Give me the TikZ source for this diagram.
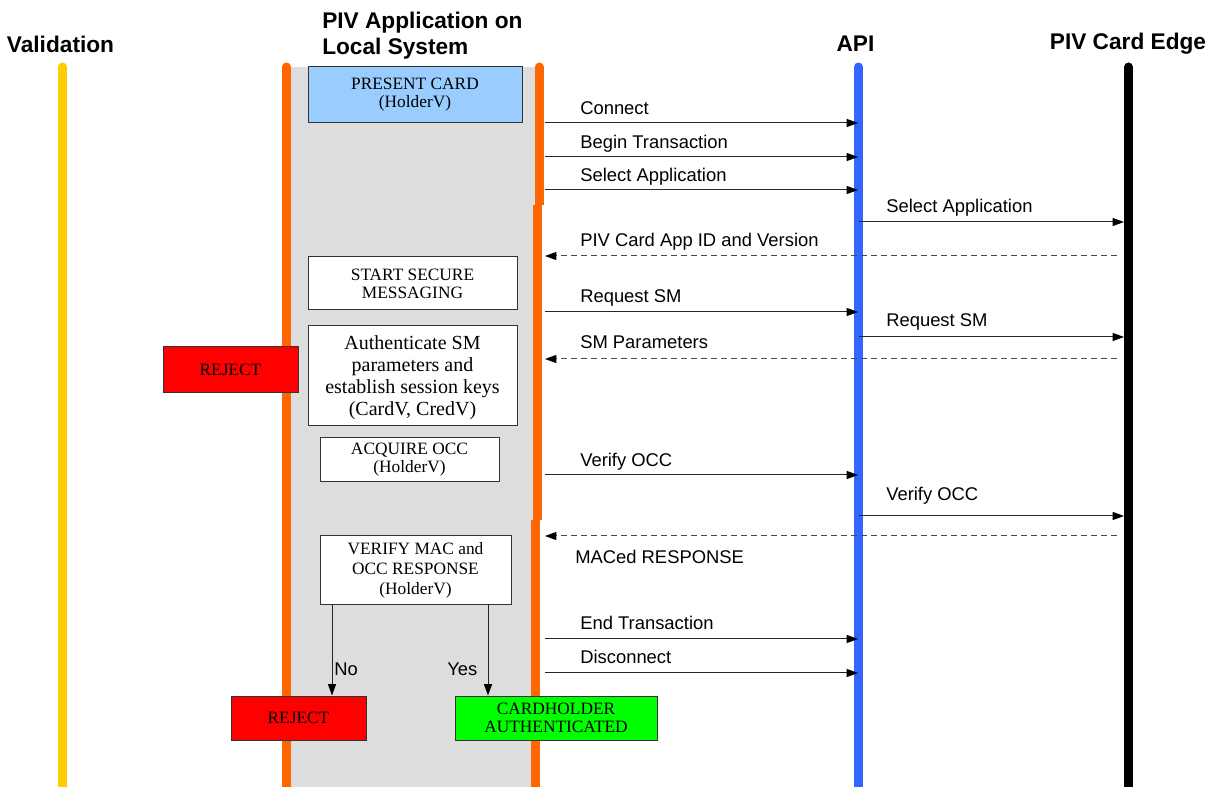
\documentclass[tikz,border=0pt]{standalone}
\usepackage{fontspec}
\setmainfont{Liberation Serif}
\setsansfont{Liberation Sans}
\usetikzlibrary{arrows.meta}
\definecolor{valyellow}{HTML}{FFCC00}
\definecolor{apporange}{HTML}{FF6600}
\definecolor{apiblue}{HTML}{3366FF}
\definecolor{bandgray}{HTML}{DDDDDD}
\definecolor{cardblue}{HTML}{99CCFF}
\definecolor{rejred}{HTML}{FF0000}
\definecolor{okgreen}{HTML}{00FF00}
\begin{document}
\begin{tikzpicture}[x=0.75pt,y=-0.75pt,
 life/.style={line width=6.75pt,line cap=round},
 lifeflat/.style={line width=6.75pt},
 msg/.style={draw=black!85,line width=0.75pt,-{Triangle[length=8.5pt,width=6pt,color=black]}},
 ret/.style={msg,draw=black!70,dash pattern=on 4.5pt off 3pt},
 lbl/.style={font=\sffamily\fontsize{13.8}{16}\selectfont,anchor=base west,inner sep=0pt},
 ttl/.style={font=\sffamily\bfseries\fontsize{17}{19.5}\selectfont,inner sep=0pt},
 box/.style={draw=black!80,line width=0.75pt,align=center,inner sep=0pt,font=\fontsize{13}{13.5}\selectfont},
]
\useasboundingbox (0,0) rectangle (1218,787);
\fill[white] (0,0) rectangle (1218,787);
\fill[bandgray] (291,67) rectangle (536,787);

% lifelines
\draw[life,valyellow] (62,67) -- (62,800);
\draw[life,apporange] (286.5,67) -- (286.5,800);
\draw[life,apporange] (539,67) -- (539,100);
\draw[lifeflat,apporange] (539,90) -- (539,205);
\draw[lifeflat,apporange] (537,205) -- (537,520);
\draw[lifeflat,apporange] (535,520) -- (535,800);
\draw[life,apiblue] (858.5,67) -- (858.5,800);
\draw[life,black] (1128.5,67) -- (1128.5,800);

% anchor points for messages
\coordinate (appOut) at (545,0);
\coordinate (apiIn) at (858,0);
\coordinate (apiOut) at (859,0);
\coordinate (cardIn) at (1124,0);
\coordinate (cardOut) at (1117,0);

% titles
\node[ttl] (tVal) at (60.5,44) {Validation};
\node[ttl,align=left,anchor=north west] (tApp) at (322,11.5) {PIV Application on\\Local System};
\node[ttl] (tApi) at (855.5,44) {API};
\node[ttl] (tCard) at (1128,44) {PIV Card Edge};

% boxes
\node[box,fill=cardblue,minimum width=160.5pt,minimum height=42pt] (present) at (415,95) {PRESENT CARD\\(HolderV)};
\node[box,fill=white,minimum width=156.75pt,minimum height=39.75pt] (startsm) at (412.5,283.5) {START SECURE\\MESSAGING};
\node[box,fill=white,font=\fontsize{15}{16.5}\selectfont,minimum width=156.75pt,minimum height=75pt,text depth=0pt] (auth) at (412.5,376) {\raisebox{0pt}[0pt][0pt]{}\rule{0pt}{0pt}Authenticate SM\\parameters and\\establish session keys\\(CardV, CredV)};
\node[box,fill=rejred,minimum width=101.25pt,minimum height=34.5pt] (rej1) at (230.5,370) {REJECT};
\node[box,fill=white,minimum width=134.25pt,minimum height=33pt] (acq) at (409.5,460) {ACQUIRE OCC\\(HolderV)};
\node[box,fill=white,font=\fontsize{13}{15}\selectfont,minimum width=143.25pt,minimum height=51.75pt] (verify) at (415.5,570.5) {VERIFY MAC and\\OCC RESPONSE\\(HolderV)};
\node[box,fill=rejred,minimum width=101.25pt,minimum height=33pt] (rej2) at (298.5,718) {REJECT};
\node[box,fill=okgreen,minimum width=151.5pt,minimum height=33pt] (okbox) at (556,718) {CARDHOLDER\\AUTHENTICATED};

% messages
\draw[msg] (appOut |- 0,123) -- (apiIn |- 0,123);
\node[lbl] (l1) at (580,115) {Connect};
\draw[msg] (appOut |- 0,157) -- (apiIn |- 0,157);
\node[lbl] (l2) at (580,149) {Begin Transaction};
\draw[msg] (appOut |- 0,190) -- (apiIn |- 0,190);
\node[lbl] (l3) at (580,182) {Select Application};
\draw[msg] (apiOut |- 0,222) -- (cardIn |- 0,222);
\node[lbl] (l4) at (886,213) {Select Application};
\draw[ret] (cardOut |- 0,256) -- (appOut |- 0,256);
\node[lbl] (l5) at (580,247) {PIV Card App ID and Version};
\draw[msg] (appOut |- 0,312) -- (apiIn |- 0,312);
\node[lbl] (l6) at (580,303) {Request SM};
\draw[msg] (apiOut |- 0,337) -- (cardIn |- 0,337);
\node[lbl] (l7) at (886,327) {Request SM};
\draw[ret] (cardOut |- 0,359) -- (appOut |- 0,359);
\node[lbl] (l8) at (580,349) {SM Parameters};
\draw[msg] (appOut |- 0,475) -- (apiIn |- 0,475);
\node[lbl] (l9) at (580,467) {Verify OCC};
\draw[msg] (apiOut |- 0,516) -- (cardIn |- 0,516);
\node[lbl] (l10) at (886,501) {Verify OCC};
\draw[ret] (cardOut |- 0,536) -- (appOut |- 0,536);
\node[lbl] (l11) at (575,564) {MACed RESPONSE};
\draw[msg] (appOut |- 0,639) -- (apiIn |- 0,639);
\node[lbl] (l12) at (580,630) {End Transaction};
\draw[msg] (appOut |- 0,673) -- (apiIn |- 0,673);
\node[lbl] (l13) at (580,663) {Disconnect};

% decision
\draw[msg] (verify.south -| 332,0) -- (rej2.north -| 332,0);
\draw[msg] (verify.south -| 488,0) -- (okbox.north -| 488,0);
\node[lbl] (lno) at (334,676) {No};
\node[lbl] (lyes) at (447,676) {Yes};
\end{tikzpicture}
\end{document}
